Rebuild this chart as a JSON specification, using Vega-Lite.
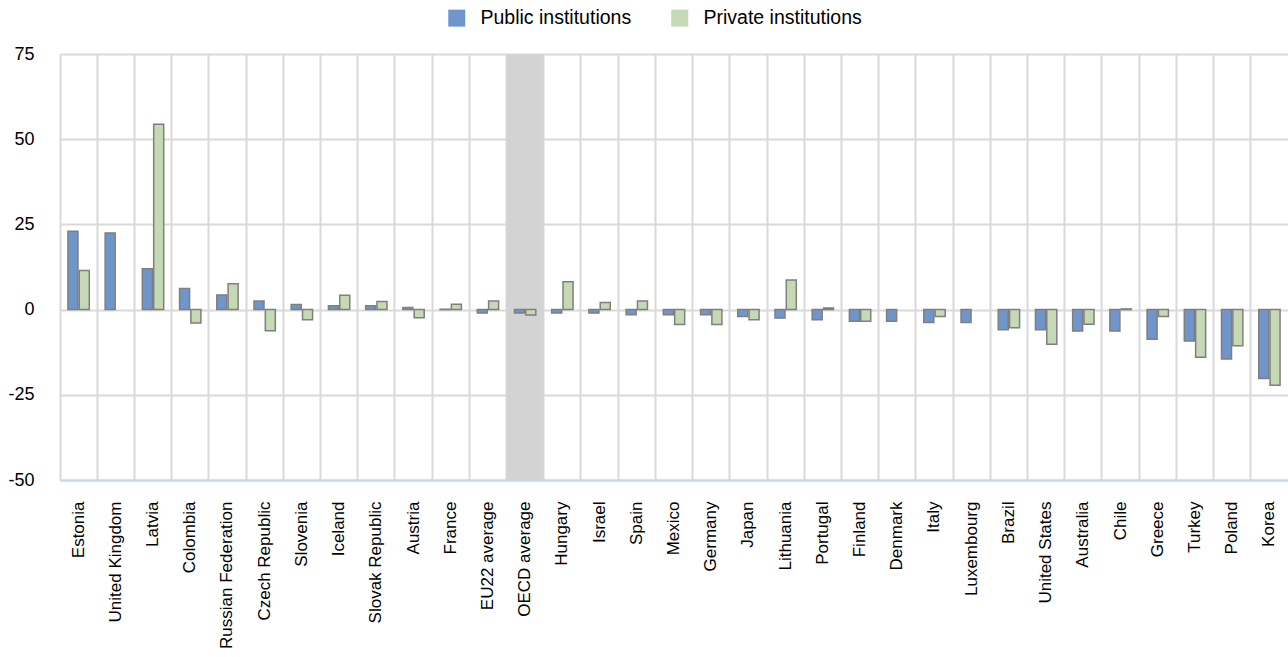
{
  "$schema": "https://vega.github.io/schema/vega-lite/v6.json",
  "autosize": {"type": "none"},
  "width": 1228,
  "height": 426,
  "padding": {"left": 60, "top": 54, "right": 0, "bottom": 177},
  "background": "white",
  "config": {
    "view": {"stroke": null},
    "font": "Liberation Sans",
    "axis": {"labelFont": "Liberation Sans", "labelColor": "#000000"},
    "legend": {"labelFont": "Liberation Sans", "labelColor": "#000000"}
  },
  "data": {
    "values": [
      {"country": "Estonia", "type": "Public institutions", "value": 23.0},
      {"country": "Estonia", "type": "Private institutions", "value": 11.5},
      {"country": "United Kingdom", "type": "Public institutions", "value": 22.5},
      {"country": "Latvia", "type": "Public institutions", "value": 12.0},
      {"country": "Latvia", "type": "Private institutions", "value": 54.4},
      {"country": "Colombia", "type": "Public institutions", "value": 6.2},
      {"country": "Colombia", "type": "Private institutions", "value": -3.9},
      {"country": "Russian Federation", "type": "Public institutions", "value": 4.3},
      {"country": "Russian Federation", "type": "Private institutions", "value": 7.6},
      {"country": "Czech Republic", "type": "Public institutions", "value": 2.5},
      {"country": "Czech Republic", "type": "Private institutions", "value": -6.2},
      {"country": "Slovenia", "type": "Public institutions", "value": 1.5},
      {"country": "Slovenia", "type": "Private institutions", "value": -3.0},
      {"country": "Iceland", "type": "Public institutions", "value": 1.1},
      {"country": "Iceland", "type": "Private institutions", "value": 4.2},
      {"country": "Slovak Republic", "type": "Public institutions", "value": 1.1},
      {"country": "Slovak Republic", "type": "Private institutions", "value": 2.4},
      {"country": "Austria", "type": "Public institutions", "value": 0.6},
      {"country": "Austria", "type": "Private institutions", "value": -2.4},
      {"country": "France", "type": "Public institutions", "value": 0.1},
      {"country": "France", "type": "Private institutions", "value": 1.6},
      {"country": "EU22 average", "type": "Public institutions", "value": -1.0},
      {"country": "EU22 average", "type": "Private institutions", "value": 2.5},
      {"country": "OECD average", "type": "Public institutions", "value": -1.0},
      {"country": "OECD average", "type": "Private institutions", "value": -1.6},
      {"country": "Hungary", "type": "Public institutions", "value": -1.0},
      {"country": "Hungary", "type": "Private institutions", "value": 8.2},
      {"country": "Israel", "type": "Public institutions", "value": -1.0},
      {"country": "Israel", "type": "Private institutions", "value": 2.1},
      {"country": "Spain", "type": "Public institutions", "value": -1.5},
      {"country": "Spain", "type": "Private institutions", "value": 2.5},
      {"country": "Mexico", "type": "Public institutions", "value": -1.5},
      {"country": "Mexico", "type": "Private institutions", "value": -4.4},
      {"country": "Germany", "type": "Public institutions", "value": -1.5},
      {"country": "Germany", "type": "Private institutions", "value": -4.4},
      {"country": "Japan", "type": "Public institutions", "value": -2.0},
      {"country": "Japan", "type": "Private institutions", "value": -3.0},
      {"country": "Lithuania", "type": "Public institutions", "value": -2.5},
      {"country": "Lithuania", "type": "Private institutions", "value": 8.7},
      {"country": "Portugal", "type": "Public institutions", "value": -3.0},
      {"country": "Portugal", "type": "Private institutions", "value": 0.5},
      {"country": "Finland", "type": "Public institutions", "value": -3.4},
      {"country": "Finland", "type": "Private institutions", "value": -3.4},
      {"country": "Denmark", "type": "Public institutions", "value": -3.4},
      {"country": "Italy", "type": "Public institutions", "value": -3.8},
      {"country": "Italy", "type": "Private institutions", "value": -2.0},
      {"country": "Luxembourg", "type": "Public institutions", "value": -3.8},
      {"country": "Brazil", "type": "Public institutions", "value": -5.9},
      {"country": "Brazil", "type": "Private institutions", "value": -5.3},
      {"country": "United States", "type": "Public institutions", "value": -5.9},
      {"country": "United States", "type": "Private institutions", "value": -10.2},
      {"country": "Australia", "type": "Public institutions", "value": -6.3},
      {"country": "Australia", "type": "Private institutions", "value": -4.3},
      {"country": "Chile", "type": "Public institutions", "value": -6.3},
      {"country": "Chile", "type": "Private institutions", "value": 0.2},
      {"country": "Greece", "type": "Public institutions", "value": -8.7},
      {"country": "Greece", "type": "Private institutions", "value": -2.0},
      {"country": "Turkey", "type": "Public institutions", "value": -9.2},
      {"country": "Turkey", "type": "Private institutions", "value": -14.0},
      {"country": "Poland", "type": "Public institutions", "value": -14.5},
      {"country": "Poland", "type": "Private institutions", "value": -10.6},
      {"country": "Korea", "type": "Public institutions", "value": -20.2},
      {"country": "Korea", "type": "Private institutions", "value": -22.2}
    ]
  },
  "encoding": {
    "x": {
      "field": "country",
      "type": "nominal",
      "sort": null,
      "scale": {
        "domain": ["Estonia", "United Kingdom", "Latvia", "Colombia", "Russian Federation", "Czech Republic", "Slovenia", "Iceland", "Slovak Republic", "Austria", "France", "EU22 average", "OECD average", "Hungary", "Israel", "Spain", "Mexico", "Germany", "Japan", "Lithuania", "Portugal", "Finland", "Denmark", "Italy", "Luxembourg", "Brazil", "United States", "Australia", "Chile", "Greece", "Turkey", "Poland", "Korea"],
        "paddingInner": 0,
        "paddingOuter": 0
      },
      "axis": {
        "title": null,
        "labelAngle": -90,
        "labelFontSize": 17,
        "labelPadding": 21,
        "ticks": false,
        "domain": true,
        "domainColor": "#c9d6ea",
        "domainWidth": 2,
        "grid": true,
        "gridColor": "#d9d9d9",
        "gridWidth": 2,
        "bandPosition": 0,
        "labelBound": false,
        "labelOverlap": false
      }
    }
  },
  "layer": [
    {
      "transform": [{"filter": "datum.country == 'OECD average' && datum.type == 'Public institutions'"}],
      "mark": {"type": "bar", "color": "#d3d3d3"},
      "encoding": {
        "y": {"datum": 75, "type": "quantitative"},
        "y2": {"datum": -50}
      }
    },
    {
      "mark": {"type": "bar", "stroke": "#7f7f7f", "strokeWidth": 1.5},
      "encoding": {
        "xOffset": {
          "field": "type",
          "type": "nominal",
          "sort": ["Public institutions", "Private institutions"],
          "scale": {"paddingInner": 0.115, "paddingOuter": 0.7}
        },
        "y": {
          "field": "value",
          "type": "quantitative",
          "scale": {"domain": [-50, 75], "nice": false, "zero": false},
          "axis": {
            "title": null,
            "values": [-50, -25, 0, 25, 50, 75],
            "labelExpr": "toString(datum.value)",
            "labelFontSize": 18,
            "labelPadding": 26,
            "ticks": false,
            "domain": false,
            "grid": true,
            "gridColor": "#d9d9d9",
            "gridWidth": 2
          }
        },
        "color": {
          "field": "type",
          "type": "nominal",
          "sort": ["Public institutions", "Private institutions"],
          "scale": {"domain": ["Public institutions", "Private institutions"], "range": ["#6f96cb", "#c5d9b5"]},
          "legend": {
            "title": null,
            "orient": "none",
            "direction": "horizontal",
            "legendX": 387,
            "legendY": -46,
            "symbolType": "square",
            "symbolSize": 289,
            "symbolStrokeWidth": 0,
            "labelFontSize": 19.5,
            "labelOffset": 14,
            "columnPadding": 38
          }
        }
      }
    }
  ]
}
